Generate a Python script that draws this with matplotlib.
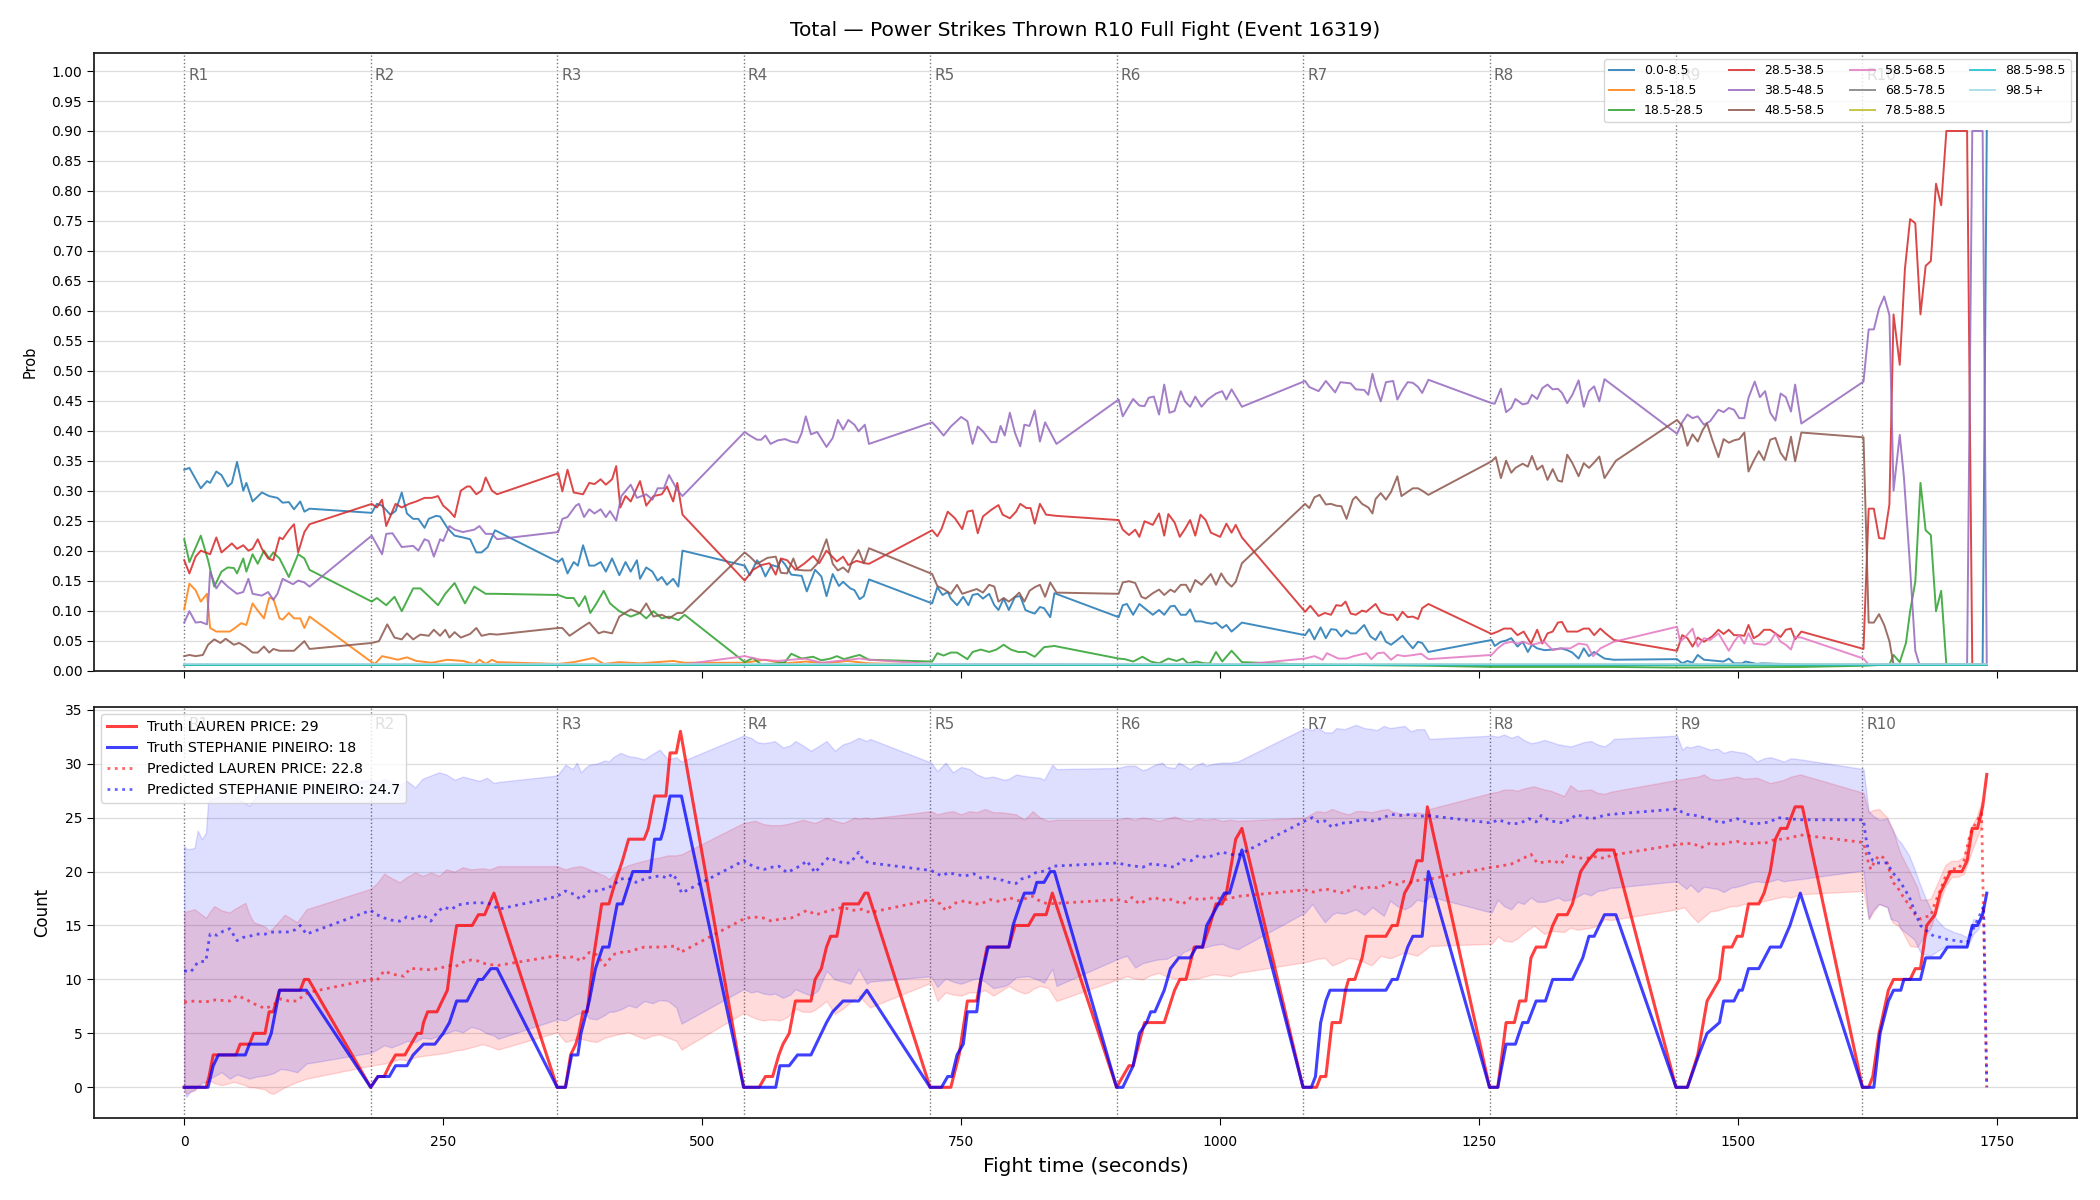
import numpy as np
import matplotlib.pyplot as plt
from matplotlib.transforms import blended_transform_factory

# rounds
round_starts = [0, 180, 360, 540, 720, 900, 1080, 1260, 1440, 1620]
round_names = ['R1', 'R2', 'R3', 'R4', 'R5', 'R6', 'R7', 'R8', 'R9', 'R10']

# ---- top panel: probability per bin, (time, prob) ----
p_0_8 = [
    (0,.335),(5,.338),(16,.304),(22,.316),(25,.313),(31,.332),(36,.326),(42,.307),(46,.313),(51,.348),(57,.300),(60,.313),(66,.282),(75,.297),(82,.291),(90,.288),(95,.280),(101,.281),(106,.269),(112,.282),(116,.265),(121,.270),
    (181,.263),(186,.278),(191,.275),(199,.260),(204,.266),(210,.297),(215,.262),(221,.253),(226,.253),(232,.238),(236,.253),(243,.258),(247,.257),(254,.238),(261,.225),(269,.222),(276,.219),(282,.197),(287,.197),(293,.206),(300,.234),
    (361,.181),(365,.187),(370,.162),(376,.181),(380,.175),(385,.209),(391,.175),(396,.175),(402,.181),(407,.165),(413,.187),(420,.159),(426,.181),(431,.165),(437,.184),(440,.153),(446,.172),(452,.165),(457,.150),(461,.156),(466,.143),(472,.153),(477,.140),(481,.200),
    (541,.175),(546,.159),(553,.184),(557,.173),(561,.157),(567,.176),(573,.173),(576,.185),(580,.177),(586,.160),(596,.158),(601,.132),(609,.168),(615,.157),(620,.124),(626,.161),(632,.141),(636,.148),(643,.137),(647,.134),(652,.119),(656,.124),(661,.152),
    (722,.112),(727,.139),(732,.126),(737,.131),(740,.120),(746,.109),(752,.123),(757,.109),(761,.126),(766,.128),(771,.120),(777,.128),(782,.109),(786,.101),(791,.120),(796,.101),(802,.123),(807,.124),(812,.101),(816,.098),(821,.095),(826,.106),(830,.104),(836,.089),(840,.129),
    (902,.089),(906,.109),(910,.111),(916,.093),(922,.111),(927,.104),(935,.093),(941,.101),(946,.093),(952,.107),(956,.108),(962,.093),(967,.093),(971,.102),(976,.082),(982,.082),(986,.080),(992,.078),(996,.080),(1002,.071),(1006,.076),(1011,.065),(1021,.080),
    (1082,.059),(1086,.069),(1091,.052),(1097,.072),(1102,.054),(1107,.069),(1112,.068),(1117,.057),(1122,.067),(1126,.062),(1131,.062),(1139,.076),(1145,.057),(1150,.051),(1155,.065),(1160,.048),(1165,.043),(1171,.051),(1176,.058),(1181,.047),(1186,.037),(1191,.048),(1195,.046),(1201,.031),
    (1262,.051),(1265,.041),(1271,.048),(1276,.050),(1281,.054),(1287,.040),(1292,.048),(1297,.031),(1301,.043),(1306,.037),(1313,.034),(1321,.035),(1329,.037),(1335,.034),(1340,.030),(1346,.020),(1351,.037),(1356,.024),(1361,.031),(1371,.020),(1380,.018),
    (1441,.019),(1446,.012),(1451,.016),(1456,.013),(1461,.026),(1467,.018),(1480,.016),(1486,.015),(1491,.020),(1496,.012),(1504,.012),(1507,.015),(1518,.011),(1523,.012),(1561,.010),
    (1621,.010),(1736,.010),(1740,.900),
]
p_8_18 = [
    (0,.102),(5,.145),(11,.134),(16,.115),(22,.128),(25,.071),(31,.065),(44,.065),(49,.071),(55,.079),(60,.076),(66,.112),(71,.100),(77,.087),(82,.121),(86,.120),(92,.087),(95,.085),(101,.096),(106,.087),(112,.087),(116,.071),(121,.090),
    (181,.014),(184,.011),(191,.024),(199,.021),(206,.018),(215,.022),(224,.016),(239,.013),(254,.018),(269,.016),(280,.011),(285,.018),(291,.011),(297,.018),(302,.014),
    (361,.011),(376,.014),(395,.021),(405,.011),(420,.014),(440,.012),(472,.016),(483,.013),
    (541,.013),(560,.018),(580,.012),(600,.015),(620,.012),(640,.016),(661,.012),
    (722,.010),(1740,.010),
]
p_18_28 = [
    (0,.219),(5,.181),(16,.225),(23,.184),(29,.140),(36,.165),(42,.172),(48,.171),(51,.162),(57,.187),(60,.165),(66,.194),(71,.178),(77,.200),(82,.187),(86,.197),(92,.187),(101,.156),(110,.194),(116,.187),(121,.168),
    (181,.115),(186,.121),(195,.109),(203,.123),(210,.099),(221,.137),(228,.137),(236,.124),(245,.109),(252,.128),(261,.146),(271,.112),(280,.140),(291,.128),(300,.128),
    (361,.126),(369,.121),(376,.121),(381,.107),(387,.124),(392,.096),(398,.112),(405,.133),(411,.112),(420,.099),(431,.090),(440,.096),(446,.087),(453,.099),(461,.087),(468,.090),(477,.084),(483,.093),
    (541,.014),(549,.021),(557,.010),(573,.012),(580,.014),(586,.028),(596,.020),(607,.023),(615,.017),(624,.020),(630,.024),(637,.019),(645,.023),(652,.026),(661,.018),
    (722,.015),(727,.029),(733,.025),(740,.030),(746,.030),(756,.019),(761,.031),(769,.035),(777,.031),(784,.035),(791,.043),(798,.035),(805,.031),(812,.031),(821,.023),(830,.039),(840,.041),
    (902,.020),(908,.019),(916,.015),(925,.023),(933,.015),(941,.012),(950,.020),(958,.016),(964,.020),(969,.012),(977,.015),(985,.012),(990,.012),(996,.031),(1002,.015),(1011,.033),(1021,.014),
    (1082,.010),(1201,.008),(1262,.006),(1380,.006),(1441,.005),(1561,.006),
    (1621,.008),(1646,.010),(1650,.026),(1656,.014),(1662,.046),(1666,.099),(1671,.148),(1676,.313),(1681,.234),(1686,.226),(1691,.099),(1696,.133),(1701,.010),(1740,.010),
]
p_28_38 = [
    (0,.184),(5,.162),(11,.190),(16,.200),(25,.194),(31,.222),(36,.197),(46,.212),(51,.203),(57,.209),(62,.200),(66,.203),(71,.219),(75,.203),(81,.187),(86,.184),(92,.222),(95,.219),(101,.234),(106,.244),(110,.197),(116,.231),(121,.244),
    (181,.278),(186,.272),(191,.285),(195,.241),(204,.278),(210,.272),(217,.278),(224,.282),(232,.288),(239,.288),(245,.291),(250,.275),(256,.266),(261,.256),(267,.300),(273,.307),(276,.307),(282,.294),(287,.300),(291,.322),(297,.300),(302,.294),
    (361,.329),(365,.299),(370,.335),(376,.297),(385,.294),(391,.313),(396,.311),(402,.319),(407,.310),(413,.319),(417,.341),(421,.272),(426,.291),(431,.282),(440,.316),(446,.275),(453,.291),(461,.294),(466,.307),(472,.282),(476,.313),(481,.260),
    (541,.150),(549,.168),(557,.176),(565,.179),(571,.160),(576,.187),(582,.184),(590,.168),(599,.179),(607,.191),(613,.179),(620,.200),(630,.182),(636,.190),(641,.176),(649,.183),(657,.179),(661,.178),
    (722,.234),(727,.224),(731,.236),(737,.265),(744,.254),(751,.236),(756,.265),(761,.267),(766,.229),(771,.257),(779,.268),(786,.276),(790,.260),(797,.254),(803,.265),(807,.278),(813,.271),(817,.271),(821,.245),(826,.278),(832,.260),(842,.258),
    (902,.251),(906,.235),(912,.226),(918,.235),(922,.223),(927,.249),(935,.243),(941,.262),(946,.225),(950,.261),(956,.247),(961,.223),(966,.236),(971,.251),(976,.225),(981,.260),(986,.251),(991,.230),(1000,.223),(1006,.245),(1011,.230),(1015,.243),(1021,.222),
    (1082,.098),(1087,.108),(1095,.091),(1101,.096),(1107,.093),(1112,.109),(1117,.108),(1121,.115),(1126,.095),(1131,.093),(1137,.100),(1141,.098),(1150,.111),(1155,.097),(1162,.093),(1167,.093),(1171,.084),(1176,.098),(1181,.089),(1186,.090),(1191,.086),(1195,.104),(1201,.111),
    (1262,.061),(1268,.065),(1274,.070),(1281,.070),(1287,.059),(1293,.065),(1300,.045),(1306,.068),(1311,.045),(1316,.062),(1321,.065),(1326,.080),(1330,.081),(1335,.065),(1345,.065),(1351,.070),(1356,.070),(1361,.059),(1367,.070),(1372,.062),(1380,.051),
    (1441,.033),(1446,.059),(1451,.054),(1456,.040),(1461,.055),(1467,.048),(1475,.057),(1481,.068),(1486,.061),(1491,.068),(1496,.059),(1501,.059),(1506,.058),(1510,.076),(1515,.054),(1520,.059),(1525,.068),(1531,.068),(1536,.062),(1541,.056),(1546,.068),(1551,.070),(1555,.052),(1561,.065),
    (1621,.036),(1626,.270),(1631,.270),(1636,.221),(1641,.220),(1646,.277),(1650,.594),(1656,.510),(1661,.670),(1666,.753),(1671,.746),(1676,.594),(1681,.675),(1686,.683),(1691,.812),(1696,.776),(1701,.900),(1721,.900),(1726,.010),(1740,.010),
]
p_38_48 = [
    (0,.080),(5,.099),(11,.080),(16,.081),(22,.077),(25,.165),(31,.137),(36,.150),(42,.140),(51,.128),(57,.131),(62,.153),(66,.128),(75,.125),(81,.131),(86,.118),(90,.128),(95,.153),(105,.144),(110,.150),(116,.147),(121,.140),
    (181,.225),(191,.194),(195,.228),(201,.229),(210,.206),(221,.208),(226,.200),(232,.219),(236,.216),(241,.190),(247,.219),(250,.216),(256,.241),(261,.235),(269,.231),(280,.235),(285,.241),(291,.228),(297,.228),(302,.219),
    (361,.231),(365,.253),(370,.256),(378,.275),(381,.278),(386,.256),(391,.269),(396,.262),(402,.269),(407,.256),(411,.266),(417,.250),(422,.291),(431,.310),(437,.288),(446,.294),(452,.285),(457,.304),(463,.304),(468,.326),(476,.301),(481,.291),
    (541,.398),(546,.392),(553,.385),(557,.385),(561,.392),(566,.378),(573,.384),(580,.386),(586,.382),(592,.380),(596,.396),(600,.424),(605,.394),(611,.398),(620,.373),(626,.388),(631,.418),(636,.402),(641,.418),(647,.410),(651,.399),(657,.410),(661,.378),
    (722,.414),(727,.405),(733,.392),(740,.407),(750,.423),(756,.416),(761,.378),(766,.407),(771,.399),(779,.381),(784,.381),(788,.408),(792,.392),(797,.430),(802,.396),(807,.374),(811,.410),(816,.408),(821,.434),(826,.382),(831,.414),(842,.378),
    (902,.452),(906,.424),(916,.453),(922,.442),(927,.441),(931,.455),(936,.457),(941,.427),(946,.477),(951,.430),(956,.433),(962,.466),(966,.449),(971,.440),(976,.457),(982,.440),(988,.452),(996,.462),(1002,.466),(1006,.452),(1011,.469),(1021,.440),
    (1082,.483),(1086,.473),(1095,.466),(1102,.483),(1111,.464),(1116,.481),(1126,.479),(1131,.469),(1139,.468),(1143,.460),(1147,.495),(1150,.474),(1155,.449),(1160,.481),(1167,.483),(1171,.452),(1176,.468),(1181,.481),(1186,.480),(1191,.473),(1195,.463),(1201,.485),
    (1262,.446),(1265,.445),(1271,.470),(1276,.431),(1281,.438),(1285,.453),(1292,.444),(1297,.446),(1301,.460),(1306,.453),(1311,.471),(1316,.477),(1321,.469),(1326,.470),(1330,.463),(1335,.446),(1340,.460),(1346,.484),(1351,.440),(1356,.466),(1361,.474),(1366,.449),(1371,.486),
    (1441,.395),(1446,.414),(1451,.427),(1456,.421),(1461,.424),(1467,.410),(1473,.416),(1481,.435),(1486,.431),(1491,.438),(1496,.435),(1501,.421),(1506,.421),(1510,.455),(1516,.482),(1521,.456),(1526,.466),(1531,.430),(1536,.417),(1541,.462),(1546,.456),(1551,.432),(1555,.477),(1561,.412),
    (1621,.482),(1626,.569),(1631,.569),(1636,.604),(1641,.624),(1646,.593),(1650,.300),(1656,.393),(1660,.323),(1665,.198),(1671,.033),(1675,.010),(1721,.010),(1726,.900),(1736,.900),(1740,.010),
]
p_48_58 = [
    (0,.024),(5,.026),(11,.024),(18,.026),(23,.043),(29,.052),(35,.046),(40,.053),(48,.043),(53,.046),(59,.040),(66,.030),(71,.030),(77,.040),(82,.030),(86,.036),(92,.033),(99,.033),(106,.033),(116,.049),(121,.036),
    (181,.046),(188,.049),(196,.077),(203,.055),(210,.052),(215,.062),(221,.052),(228,.060),(236,.058),(241,.068),(247,.058),(252,.068),(256,.055),(261,.064),(267,.055),(276,.061),(282,.071),(287,.058),(295,.061),(302,.060),
    (361,.071),(365,.071),(372,.058),(383,.071),(391,.080),(400,.062),(405,.065),(413,.062),(420,.090),(431,.102),(440,.096),(446,.112),(453,.090),(461,.093),(468,.087),(476,.096),(481,.096),
    (541,.197),(546,.190),(553,.178),(557,.182),(563,.188),(571,.190),(576,.163),(582,.162),(588,.187),(592,.168),(599,.167),(605,.167),(611,.178),(620,.219),(626,.178),(631,.167),(636,.172),(641,.164),(645,.184),(651,.201),(656,.179),(661,.204),
    (722,.161),(727,.141),(733,.136),(740,.128),(746,.143),(751,.128),(758,.132),(765,.136),(771,.130),(777,.143),(782,.140),(786,.115),(791,.121),(796,.115),(802,.123),(806,.130),(811,.115),(816,.133),(821,.139),(826,.143),(831,.123),(836,.147),(842,.130),
    (902,.128),(906,.147),(912,.149),(918,.146),(924,.123),(928,.120),(935,.129),(941,.135),(946,.126),(952,.135),(956,.131),(962,.143),(967,.143),(971,.131),(976,.151),(982,.143),(986,.151),(991,.161),(996,.143),(1001,.162),(1006,.148),(1011,.140),(1015,.148),(1021,.179),
    (1082,.278),(1086,.271),(1091,.289),(1096,.293),(1102,.277),(1107,.278),(1112,.275),(1117,.274),(1122,.253),(1128,.285),(1131,.290),(1137,.278),(1143,.272),(1147,.262),(1150,.286),(1155,.296),(1160,.285),(1165,.298),(1171,.324),(1175,.291),(1181,.298),(1186,.304),(1191,.304),(1195,.300),(1201,.293),
    (1262,.349),(1266,.356),(1271,.321),(1276,.350),(1281,.330),(1285,.338),(1292,.345),(1297,.340),(1301,.358),(1306,.335),(1311,.342),(1316,.318),(1321,.336),(1326,.317),(1330,.315),(1335,.360),(1340,.346),(1346,.324),(1351,.346),(1356,.338),(1361,.347),(1366,.357),(1371,.321),(1382,.350),
    (1441,.418),(1446,.408),(1451,.375),(1456,.394),(1461,.382),(1466,.402),(1470,.412),(1475,.385),(1481,.356),(1486,.386),(1491,.380),(1496,.384),(1501,.386),(1506,.397),(1510,.332),(1515,.350),(1520,.366),(1525,.351),(1531,.385),(1536,.388),(1541,.363),(1546,.351),(1551,.390),(1555,.349),(1561,.397),
    (1621,.389),(1626,.080),(1631,.080),(1636,.094),(1641,.076),(1646,.049),(1650,.010),(1740,.010),
]
p_58_68 = [
    (0,.010),(481,.010),
    (541,.024),(557,.018),(573,.016),(599,.020),(615,.013),(652,.020),(661,.018),
    (722,.011),(842,.011),(902,.010),(1021,.010),
    (1082,.020),(1091,.024),(1099,.018),(1103,.029),(1114,.020),(1122,.020),(1129,.024),(1141,.029),(1146,.019),(1152,.029),(1158,.030),(1165,.018),(1171,.026),(1178,.024),(1187,.026),(1194,.028),(1201,.019),
    (1262,.026),(1268,.037),(1274,.045),(1281,.048),(1287,.045),(1293,.048),(1300,.043),(1306,.045),(1313,.048),(1321,.034),(1329,.037),(1338,.037),(1346,.045),(1354,.043),(1360,.024),(1367,.037),(1380,.048),
    (1441,.073),(1444,.048),(1449,.056),(1456,.070),(1461,.040),(1467,.054),(1473,.051),(1481,.062),(1491,.033),(1496,.048),(1501,.059),(1506,.045),(1510,.062),(1515,.045),(1526,.043),(1531,.048),(1536,.062),(1541,.048),(1546,.043),(1551,.035),(1555,.056),(1561,.055),
    (1621,.020),(1626,.010),(1740,.010),
]
p_68_78 = [(0,.009),(1740,.009)]
p_78_88 = [(0,.009),(1740,.009)]
p_88_98 = [(0,.010),(1740,.010)]
p_98_up = [(0,.011),(1740,.011)]

bin_series = [p_0_8, p_8_18, p_18_28, p_28_38, p_38_48, p_48_58,
              p_58_68, p_68_78, p_78_88, p_88_98, p_98_up]
bin_labels = ['0.0-8.5', '8.5-18.5', '18.5-28.5', '28.5-38.5', '38.5-48.5', '48.5-58.5',
              '58.5-68.5', '68.5-78.5', '78.5-88.5', '88.5-98.5', '98.5+']
bin_colors = ['#1f77b4', '#ff7f0e', '#2ca02c', '#d62728', '#9467bd', '#8c564b',
              '#e377c2', '#7f7f7f', '#bcbd22', '#17becf', '#9edae5']

# ---- bottom panel: counts ----
truth_price = [
    (0,0),(21,0),(24,1),(28,3),(50,3),(54,4),(63,4),(67,5),(78,5),(82,7),(86,7),(92,9),(112,9),(116,10),(120,10),
    (180,0),(187,1),(193,1),(198,2),(204,3),(213,3),(219,4),(225,5),(229,5),(231,6),(235,7),(244,7),(254,9),(258,12),(263,15),(278,15),(284,16),(290,16),(299,18),
    (360,0),(368,0),(373,3),(378,4),(381,5),(385,7),(389,7),(395,12),(403,17),(410,17),(416,19),(423,21),(429,23),(444,23),(448,24),(454,27),(465,27),(469,31),(475,31),(479,33),
    (540,0),(555,0),(561,1),(568,1),(574,3),(578,4),(584,5),(590,8),(605,8),(609,10),(615,11),(620,13),(624,14),(630,14),(636,17),(651,17),(657,18),(660,18),
    (720,0),(740,0),(748,3),(756,8),(765,8),(775,13),(796,13),(802,15),(815,15),(821,16),(832,16),(838,18),
    (900,0),(912,2),(916,2),(927,6),(946,6),(956,9),(961,10),(967,10),(975,13),(983,13),(990,15),(996,17),(1002,17),(1006,18),(1015,23),(1021,24),
    (1080,0),(1093,0),(1097,1),(1102,1),(1108,6),(1116,6),(1121,9),(1124,10),(1130,10),(1137,12),(1141,14),(1160,14),(1166,15),(1171,15),(1178,18),(1184,19),(1190,21),(1195,21),(1200,26),
    (1260,0),(1268,0),(1276,6),(1284,6),(1289,8),(1295,8),(1300,12),(1305,13),(1314,13),(1321,15),(1326,16),(1335,16),(1340,17),(1348,20),(1355,21),(1364,22),(1380,22),
    (1440,0),(1451,0),(1461,3),(1470,8),(1482,10),(1486,13),(1494,13),(1499,14),(1504,14),(1510,17),(1520,17),(1525,18),(1531,20),(1536,23),(1541,24),(1547,24),(1555,26),(1562,26),
    (1620,0),(1626,0),(1630,1),(1636,5),(1645,9),(1650,10),(1666,10),(1671,11),(1676,11),(1682,15),(1690,16),(1695,18),(1700,19),(1705,20),(1716,20),(1721,21),(1726,24),(1731,24),(1736,26),(1740,29),
]
truth_pineiro = [
    (0,0),(23,0),(28,2),(33,3),(59,3),(63,4),(80,4),(84,5),(92,9),(118,9),
    (180,0),(187,1),(198,1),(204,2),(215,2),(221,3),(231,4),(242,4),(250,5),(256,6),(263,8),(273,8),(284,10),(288,10),(296,11),(302,11),
    (360,0),(368,0),(374,3),(380,3),(383,5),(391,8),(397,11),(404,13),(410,13),(418,17),(423,17),(433,20),(450,20),(454,23),(460,23),(463,24),(469,27),(480,27),
    (540,0),(571,0),(575,2),(584,2),(592,3),(605,3),(615,5),(620,6),(626,7),(636,8),(651,8),(659,9),
    (720,0),(731,0),(737,1),(741,1),(746,3),(752,4),(756,7),(765,7),(769,10),(776,13),(796,13),(800,15),(807,17),(811,18),(820,18),(823,19),(830,19),(836,20),(840,20),
    (900,0),(906,0),(916,2),(922,5),(929,6),(933,7),(937,7),(946,9),(952,11),(960,12),(971,12),(977,13),(983,13),(987,15),(1004,18),(1009,18),(1021,22),
    (1080,0),(1088,0),(1092,1),(1097,6),(1102,8),(1106,9),(1160,9),(1166,10),(1171,10),(1181,13),(1186,14),(1195,14),(1201,20),
    (1260,0),(1268,0),(1276,4),(1285,4),(1292,6),(1297,6),(1305,8),(1314,8),(1321,10),(1340,10),(1350,12),(1356,14),(1361,14),(1371,16),(1382,16),
    (1440,0),(1451,0),(1462,3),(1470,5),(1482,6),(1486,8),(1496,8),(1501,9),(1504,9),(1510,11),(1520,11),(1531,13),(1541,13),(1550,15),(1560,18),
    (1620,0),(1631,0),(1637,5),(1645,8),(1650,9),(1657,9),(1660,10),(1676,10),(1681,12),(1695,12),(1702,13),(1721,13),(1726,15),(1731,15),(1736,16),(1740,18),
]
pred_price = [
    (0,7.9),(10,8.0),(20,7.9),(30,8.1),(44,8.0),(51,8.5),(59,8.2),(66,7.8),(78,7.3),(86,7.6),(93,8.2),(101,8.0),(109,8.0),(116,8.6),(120,8.8),
    (180,10.0),(186,9.9),(193,10.8),(200,10.5),(212,10.3),(218,11.0),(223,11.0),(235,10.9),(246,11.0),(255,11.3),(262,11.2),(269,11.6),(277,11.8),(284,11.7),(292,11.4),(303,11.3),
    (360,12.2),(368,12.0),(376,12.1),(383,11.7),(391,12.5),(398,12.3),(406,11.3),(414,12.3),(421,12.5),(430,12.6),(444,13.0),(460,13.0),(475,13.1),(479,12.5),
    (540,15.6),(549,15.8),(559,15.7),(567,15.4),(575,15.6),(586,15.7),(593,16.0),(601,16.4),(610,16.0),(620,16.3),(628,16.5),(636,16.7),(645,16.4),(654,16.5),(662,16.2),
    (721,17.4),(730,17.0),(735,16.4),(745,17.1),(754,17.3),(762,17.0),(769,17.0),(778,17.4),(788,17.2),(796,17.6),(805,17.3),(812,17.5),(819,17.7),(827,17.2),(834,17.0),
    (901,17.4),(910,17.2),(915,17.6),(922,17.0),(930,17.4),(937,17.6),(944,17.3),(950,17.5),(958,17.2),(964,17.0),(972,17.6),(979,17.4),(988,17.5),(995,17.6),(1005,17.4),(1017,17.7),
    (1082,18.3),(1090,18.1),(1101,18.4),(1110,18.2),(1120,18.0),(1130,18.6),(1139,18.4),(1146,18.6),(1151,18.5),(1158,18.7),(1164,19.0),(1171,18.8),(1178,19.1),(1184,19.0),(1192,19.2),(1202,19.3),
    (1262,20.4),(1270,20.5),(1281,20.7),(1290,21.1),(1300,21.6),(1306,20.8),(1315,20.9),(1322,21.0),(1329,20.7),(1335,21.5),(1344,21.3),(1352,21.2),(1364,21.4),(1371,21.2),(1377,21.5),
    (1441,22.5),(1449,22.6),(1457,22.6),(1464,22.2),(1472,22.6),(1483,22.5),(1491,22.7),(1499,22.8),(1510,22.5),(1518,22.7),(1525,22.6),(1533,22.9),(1541,23.0),(1550,23.1),(1560,23.4),
    (1621,22.7),(1625,21.1),(1628,20.2),(1632,21.0),(1636,21.5),(1640,21.3),(1644,20.8),(1649,19.0),(1653,18.7),(1657,18.0),(1662,17.3),(1666,16.7),(1671,16.0),(1676,15.6),(1681,15.8),(1686,15.9),(1690,17.1),(1694,18.0),(1700,19.5),(1706,20.3),(1712,20.2),(1718,21.0),(1724,23.5),(1730,24.6),(1735,25.4),(1740,0.0),
]
pred_pineiro = [
    (0,10.8),(6,10.7),(9,11.0),(13,11.6),(21,11.7),(23,13.1),(25,14.2),(32,14.1),(38,14.5),(44,14.7),(51,13.6),(57,13.9),(63,14.0),(70,14.2),(78,14.2),(86,14.4),(93,14.4),(101,14.4),(107,14.6),(112,15.0),(118,14.2),
    (180,16.4),(186,16.0),(193,15.7),(200,15.5),(208,15.4),(215,15.8),(222,15.6),(230,16.0),(238,15.4),(244,16.2),(250,16.7),(258,16.5),(264,16.9),(270,17.0),(277,17.1),(285,17.1),(292,17.1),(298,16.9),(303,16.5),
    (360,17.7),(368,18.2),(376,17.9),(383,17.4),(391,18.2),(398,18.2),(406,18.4),(414,18.7),(421,19.3),(428,19.4),(436,19.0),(444,19.3),(452,19.5),(459,19.6),(467,19.4),(471,19.8),(476,19.2),(480,18.0),
    (540,21.0),(547,20.6),(551,20.4),(560,20.2),(567,20.4),(574,20.5),(582,19.9),(590,20.3),(596,20.6),(601,21.0),(609,19.9),(615,20.6),(622,21.3),(630,21.0),(636,20.8),(643,20.8),(651,21.8),(656,21.0),(662,20.8),
    (721,20.1),(731,19.6),(738,19.9),(746,19.7),(754,19.6),(762,19.8),(769,19.4),(777,19.5),(784,19.3),(790,19.2),(796,19.0),(803,18.9),(808,19.3),(815,19.5),(822,19.9),(828,20.0),(834,20.2),(838,20.5),
    (901,20.8),(910,20.6),(918,20.5),(925,20.4),(933,20.7),(944,20.6),(950,20.5),(956,20.4),(964,21.1),(972,21.0),(979,21.5),(986,21.3),(994,21.5),(1002,21.8),(1010,21.6),(1017,21.5),
    (1082,24.7),(1089,25.0),(1095,24.6),(1101,24.7),(1108,24.1),(1116,24.5),(1124,24.5),(1132,24.7),(1140,24.8),(1147,24.7),(1155,24.9),(1165,25.3),(1175,25.2),(1184,25.3),(1192,25.1),(1200,25.2),
    (1262,24.5),(1268,24.8),(1275,24.6),(1281,24.4),(1290,24.5),(1298,24.9),(1305,24.6),(1310,25.2),(1318,24.7),(1325,24.6),(1332,24.5),(1338,24.9),(1345,25.3),(1352,25.0),(1358,24.9),(1364,25.0),(1370,25.2),(1377,25.3),
    (1441,25.8),(1446,25.5),(1451,25.3),(1459,25.2),(1467,25.0),(1475,24.8),(1483,24.5),(1491,24.7),(1499,24.9),(1507,24.6),(1515,24.4),(1523,24.5),(1531,24.6),(1538,25.0),(1548,24.9),(1560,24.8),
    (1621,24.8),(1623,23.3),(1626,21.8),(1630,21.0),(1634,20.8),(1640,20.8),(1644,20.8),(1649,19.9),(1653,19.5),(1657,19.0),(1661,18.3),(1665,17.7),(1670,16.4),(1676,15.0),(1682,14.5),(1689,14.0),(1696,13.9),(1702,13.7),(1710,13.6),(1716,13.5),(1721,13.4),(1727,14.7),(1732,15.7),(1737,16.8),(1740,0.0),
]

# prediction bands (time, low, high)
band_pineiro = [
    (0,-0.2,22.4),(2,-0.9,22.1),(6,-0.4,22.1),(10,-0.2,22.2),(13,0.1,23.8),(17,0.3,23.0),(21,0.5,23.6),(23,0.6,26.4),(25,0.8,26.7),(36,1.4,27.0),(44,0.8,27.3),(51,1.2,26.8),(63,0.8,26.1),(70,1.0,27.0),(78,1.1,27.5),(86,1.3,28.1),(93,1.7,27.8),(101,1.6,27.5),(109,1.4,28.0),(118,2.2,27.8),
    (180,3.2,28.5),(186,3.5,28.2),(193,3.9,28.6),(200,3.7,28.3),(208,4.0,28.0),(215,4.3,28.4),(223,4.2,27.8),(230,4.6,28.6),(238,4.5,28.9),(246,4.8,29.2),(253,5.0,29.0),(261,5.3,28.5),(269,5.1,28.8),(277,5.6,28.6),(285,5.4,28.4),(292,5.0,28.7),(299,4.8,28.2),(303,4.5,28.3),
    (360,6.3,28.9),(368,6.2,29.9),(375,6.6,29.5),(379,6.8,30.1),(383,6.9,29.2),(387,6.9,29.6),(391,6.4,29.9),(398,6.3,30.0),(406,6.7,30.3),(410,7.0,30.2),(414,7.0,30.6),(421,7.2,31.0),(429,7.6,30.7),(436,7.4,30.6),(444,8.0,30.4),(452,7.8,30.9),(459,8.1,31.3),(467,8.0,30.4),(475,7.4,30.6),(480,5.9,30.2),
    (540,9.1,32.6),(547,8.8,32.4),(553,8.9,32.0),(559,8.7,31.9),(566,8.6,32.0),(570,8.7,32.1),(578,8.3,31.5),(585,8.6,31.7),(590,9.1,32.1),(597,8.8,31.7),(605,8.5,31.2),(612,9.0,31.6),(620,10.8,32.1),(628,10.0,31.2),(636,9.8,31.8),(643,9.6,32.0),(651,11.0,32.4),(659,9.6,32.1),(662,9.8,32.3),
    (721,10.3,30.1),(727,9.3,29.3),(735,10.1,30.1),(742,9.8,29.2),(750,9.6,29.7),(758,9.9,29.5),(765,10.1,29.0),(773,9.8,28.7),(781,9.2,28.8),(792,9.4,28.5),(796,9.6,28.6),(803,10.2,29.0),(815,10.3,28.8),(826,9.9,28.7),(830,9.7,28.5),(838,11.0,29.9),(842,9.4,29.5),
    (901,11.9,29.6),(910,12.2,29.8),(918,11.1,29.8),(925,11.5,29.4),(929,11.6,29.5),(937,11.8,29.9),(944,11.9,30.1),(948,11.9,29.7),(956,12.3,29.6),(960,12.1,30.1),(964,12.5,29.9),(971,12.8,29.5),(975,13.1,29.8),(983,12.9,30.1),(986,13.0,29.8),(994,13.2,30.0),(1002,13.3,30.1),(1009,13.0,30.1),(1017,12.8,30.2),
    (1082,16.2,33.3),(1089,17.0,33.1),(1093,16.4,33.4),(1101,15.3,32.9),(1108,16.0,32.9),(1112,16.2,33.3),(1120,16.1,33.2),(1131,16.5,33.6),(1139,16.0,33.3),(1147,16.7,33.2),(1151,16.4,33.1),(1158,15.9,33.5),(1164,17.3,33.3),(1171,16.8,33.4),(1178,16.5,33.5),(1184,16.8,33.0),(1190,17.4,33.2),(1197,17.2,33.2),(1202,17.7,32.3),
    (1262,16.2,32.6),(1268,17.4,32.5),(1274,16.8,32.7),(1281,16.5,32.4),(1287,17.2,32.6),(1293,17.0,32.2),(1300,17.6,31.9),(1306,17.2,32.0),(1313,17.2,32.2),(1320,17.4,32.0),(1326,17.6,31.8),(1332,17.3,31.7),(1338,17.4,31.6),(1345,17.7,31.8),(1351,18.0,32.0),(1358,17.8,32.1),(1364,18.2,31.8),(1371,18.3,31.6),(1377,18.5,32.0),(1380,18.5,32.3),
    (1441,19.1,32.6),(1446,18.7,31.3),(1450,18.4,31.6),(1454,18.8,31.5),(1461,18.1,31.7),(1467,18.6,31.5),(1473,18.5,31.3),(1480,18.4,31.4),(1486,18.1,31.0),(1493,18.5,31.2),(1499,18.6,31.1),(1506,18.8,31.0),(1512,19.0,30.7),(1518,19.1,30.2),(1525,19.0,30.5),(1531,19.1,30.6),(1538,19.3,30.4),(1544,19.1,30.2),(1551,19.2,30.5),(1560,19.3,30.4),
    (1621,20.1,29.5),(1626,15.6,25.6),(1630,16.4,25.2),(1636,17.0,24.8),(1644,16.7,24.9),(1647,15.6,24.2),(1654,15.4,23.0),(1657,14.7,22.7),(1665,14.1,21.5),(1670,13.7,20.3),(1676,12.5,18.7),(1681,12.3,17.5),(1686,12.2,16.5),(1692,12.6,15.5),(1699,13.0,14.8),(1708,13.1,14.4),(1715,13.0,14.2),(1721,13.0,13.9),(1727,14.2,15.6),(1732,14.7,15.5),(1737,16.4,16.9),
]
band_price = [
    (0,-0.1,16.2),(2,-0.6,16.3),(6,-0.4,16.4),(10,-0.3,16.5),(17,0.5,16.0),(21,0.5,15.7),(25,0.6,16.3),(29,0.4,16.8),(36,0.2,16.4),(44,0.4,16.2),(48,0.5,16.5),(59,0.2,17.1),(63,0.0,16.0),(67,0.0,15.3),(78,-0.2,14.9),(82,-0.5,14.5),(86,-0.6,14.8),(97,0.0,16.0),(109,0.5,15.3),(118,0.8,16.5),
    (180,2.0,18.4),(186,2.1,18.9),(193,2.2,19.8),(200,2.4,19.4),(208,2.6,19.0),(215,2.5,19.5),(223,2.8,19.9),(230,2.9,19.6),(238,3.0,19.9),(246,3.1,19.6),(253,3.2,20.2),(261,3.4,20.0),(269,3.5,20.4),(277,3.7,20.2),(288,4.0,20.3),(295,3.8,20.2),(303,3.5,20.5),
    (360,5.1,20.5),(368,4.2,20.2),(375,4.4,20.4),(383,4.5,20.5),(391,4.3,20.2),(398,4.2,19.9),(406,4.6,19.6),(410,4.7,19.3),(418,4.9,20.1),(429,5.1,20.6),(436,4.8,20.8),(444,4.5,21.0),(452,4.8,21.2),(459,4.9,21.3),(467,4.6,21.5),(475,4.3,21.5),(480,3.5,21.6),
    (540,6.9,24.5),(551,6.4,24.7),(559,6.2,24.4),(566,6.3,24.3),(575,6.2,24.3),(582,6.5,24.4),(590,7.3,24.6),(597,7.0,24.8),(605,7.0,24.6),(609,7.2,24.5),(620,8.0,25.0),(628,6.8,24.7),(636,7.3,24.5),(643,7.9,24.8),(647,8.2,25.0),(651,8.5,24.9),(659,7.7,25.0),(662,7.4,24.9),
    (721,9.7,25.6),(727,8.0,25.3),(735,8.8,25.5),(742,8.6,25.6),(750,8.5,25.3),(758,8.8,25.6),(765,8.8,25.5),(773,9.0,25.8),(781,8.5,25.5),(788,8.9,25.5),(796,9.4,25.4),(803,9.0,25.3),(811,8.7,24.8),(815,8.8,25.2),(819,9.1,25.6),(826,9.4,25.0),(834,9.2,24.7),(842,8.0,24.8),
    (901,10.0,24.8),(910,10.3,25.0),(917,10.1,24.8),(925,10.0,25.0),(933,10.4,24.9),(941,10.6,24.7),(948,10.3,24.9),(956,10.1,25.1),(964,10.2,24.8),(971,10.0,24.7),(979,10.1,24.9),(986,10.3,24.8),(994,10.5,24.9),(1002,10.4,24.7),(1010,10.3,24.8),(1017,10.6,24.7),
    (1082,11.6,25.0),(1093,11.9,25.6),(1101,12.0,25.5),(1108,11.3,25.8),(1116,11.6,25.5),(1124,12.0,25.3),(1131,11.9,25.6),(1139,11.6,25.6),(1146,11.3,25.5),(1155,12.2,25.7),(1162,12.0,25.8),(1165,12.0,25.6),(1178,12.5,25.3),(1190,12.2,25.5),(1200,12.9,25.3),(1202,13.1,25.8),
    (1262,13.3,27.3),(1268,14.0,27.4),(1274,13.6,27.6),(1281,13.5,27.6),(1287,13.8,27.5),(1293,14.3,27.7),(1303,15.0,27.9),(1313,14.2,27.6),(1319,14.5,27.5),(1332,14.4,27.0),(1338,14.8,28.0),(1345,14.6,27.5),(1358,14.8,27.6),(1364,15.0,27.3),(1371,15.6,27.2),(1377,15.5,27.4),
    (1441,16.5,28.5),(1448,16.7,28.6),(1454,16.0,28.7),(1461,15.3,28.8),(1467,15.8,29.0),(1473,16.3,28.6),(1480,16.4,28.5),(1493,16.8,28.7),(1499,16.8,28.8),(1506,17.0,28.6),(1518,17.1,28.7),(1531,17.4,28.2),(1544,17.7,28.5),(1551,17.6,28.8),(1560,17.9,29.0),
    (1621,18.2,27.3),(1626,15.6,25.5),(1630,16.2,25.7),(1636,17.0,25.8),(1644,16.7,25.0),(1649,15.3,24.0),(1654,15.0,22.4),(1657,14.7,21.6),(1666,13.1,19.9),(1673,13.0,18.5),(1676,13.5,17.4),(1682,14.2,17.4),(1686,14.8,17.5),(1690,16.0,18.4),(1694,17.0,19.3),(1700,18.6,20.6),(1706,19.5,21.0),(1712,19.5,21.0),(1718,19.8,21.4),(1724,21.5,24.0),(1730,23.0,25.0),(1735,24.3,26.5),
]
pred_final_price = 22.8
pred_final_pineiro = 24.7

fig, (ax1, ax2) = plt.subplots(2, 1, figsize=(21, 12), dpi=100, sharex=True,
                               gridspec_kw={'height_ratios': [0.5146, 0.3425]})
fig.subplots_adjust(left=0.0448, right=0.989, top=0.9558, bottom=0.0683, hspace=0.071)

# top panel
for ser, lab, col in zip(bin_series, bin_labels, bin_colors):
    t, v = zip(*ser)
    ax1.plot(t, v, color=col, lw=1.4, alpha=0.85, label=lab)
ax1.set_ylim(0, 1.03)
ax1.set_yticks(np.arange(0, 1.001, 0.05))
ax1.set_ylabel('Prob', fontsize=10.5, labelpad=10)
ax1.set_title('Total \u2014 Power Strikes Thrown R10 Full Fight (Event 16319)', fontsize=14.5, pad=12)
ax1.legend(loc='upper right', ncol=4, fontsize=9, labelspacing=0.55, columnspacing=2.0)

# bottom panel
t, lo, hi = zip(*band_price)
ax2.fill_between(t, lo, hi, color='red', alpha=0.14)
t, lo, hi = zip(*band_pineiro)
ax2.fill_between(t, lo, hi, color='blue', alpha=0.13)
t, v = zip(*truth_price)
ax2.plot(t, v, color='red', lw=2.2, alpha=0.75, label='Truth LAUREN PRICE: %d' % v[-1])
t, v = zip(*truth_pineiro)
ax2.plot(t, v, color='blue', lw=2.2, alpha=0.75, label='Truth STEPHANIE PINEIRO: %d' % v[-1])
t, v = zip(*pred_price)
ax2.plot(t, v, color='red', ls=':', lw=2, alpha=0.6, label='Predicted LAUREN PRICE: %.1f' % pred_final_price)
t, v = zip(*pred_pineiro)
ax2.plot(t, v, color='blue', ls=':', lw=2, alpha=0.6, label='Predicted STEPHANIE PINEIRO: %.1f' % pred_final_pineiro)
ax2.set_ylim(-2.85, 35.25)
ax2.set_ylabel('Count', fontsize=12, labelpad=10)
ax2.set_xlabel('Fight time (seconds)', fontsize=14.5, labelpad=6)
ax2.legend(loc='upper left', fontsize=10.3)

for ax in (ax1, ax2):
    tr = blended_transform_factory(ax.transData, ax.transAxes)
    for s, name in zip(round_starts, round_names):
        ax.axvline(s, color='#555555', ls=':', lw=1, alpha=0.8, zorder=0.5)
        ax.text(s + 4, 0.975, name, transform=tr, va='top', ha='left', color='#666666', fontsize=11)
    ax.grid(axis='y', color='#dddddd', lw=0.9)
    ax.set_axisbelow(True)
    ax.tick_params(labelsize=10, length=5)
    for sp in ax.spines.values():
        sp.set_linewidth(1.3)
        sp.set_color('#222222')
ax2.tick_params(axis='x', pad=7)

plt.savefig('out.png', dpi=100)
